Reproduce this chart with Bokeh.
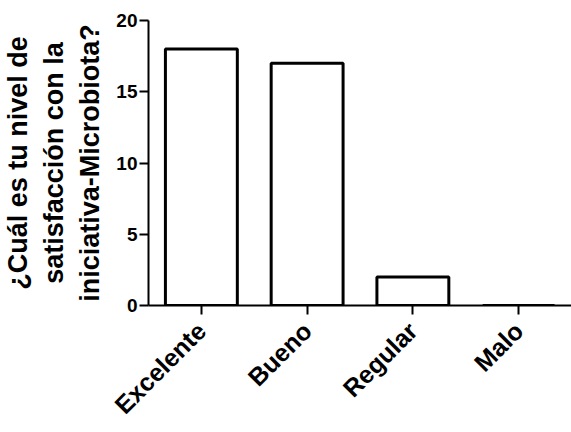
from math import pi
from bokeh.plotting import figure
from bokeh.models import FactorRange, Range1d, FixedTicker
from bokeh.embed import file_html
from bokeh.resources import INLINE

categories = ["Excelente", "Bueno", "Regular", "Malo"]
values = [18, 17, 2, 0]
y_ticks = [0, 5, 10, 15, 20]
y_title = "¿Cuál es tu nivel de\nsatisfacción con la\niniciativa-Microbiota?"

FONT = "Liberation Sans"

p = figure(
    width=571, height=432,
    x_range=FactorRange(*categories),
    y_range=Range1d(0, 20),
    output_backend="svg", toolbar_location=None,
    min_border_left=148, min_border_right=0,
    min_border_top=20, min_border_bottom=127,
)
p.outline_line_color = None
p.xgrid.visible = False
p.ygrid.visible = False
p.background_fill_color = "white"
p.border_fill_color = "white"

p.vbar(x=categories, top=values, width=0.68, bottom=0,
       fill_color="white", line_color="black", line_width=3)

ya = p.yaxis[0]
ya.ticker = FixedTicker(ticks=y_ticks)
ya.axis_line_width = 2
ya.major_tick_line_width = 2
ya.major_tick_out = 9
ya.major_tick_in = 0
ya.minor_tick_out = 0
ya.minor_tick_in = 0
ya.major_label_standoff = 2
ya.major_label_text_font = FONT
ya.major_label_text_font_style = "bold"
ya.major_label_text_font_size = "19px"
ya.major_label_text_color = "black"
ya.axis_label = y_title
ya.axis_label_text_font = FONT
ya.axis_label_text_font_style = "bold"
ya.axis_label_text_font_size = "27px"
ya.axis_label_text_color = "black"
ya.axis_label_standoff = 8
ya.axis_label_text_line_height = 1.2

xa = p.xaxis[0]
xa.axis_line_width = 2
xa.major_tick_line_width = 2
xa.major_tick_out = 9
xa.major_tick_in = 0
xa.major_label_orientation = pi / 4
xa.major_label_standoff = 12
xa.major_label_text_font = FONT
xa.major_label_text_font_style = "bold"
xa.major_label_text_font_size = "25px"
xa.major_label_text_color = "black"

open("out.html", "w").write(file_html(p, INLINE))
